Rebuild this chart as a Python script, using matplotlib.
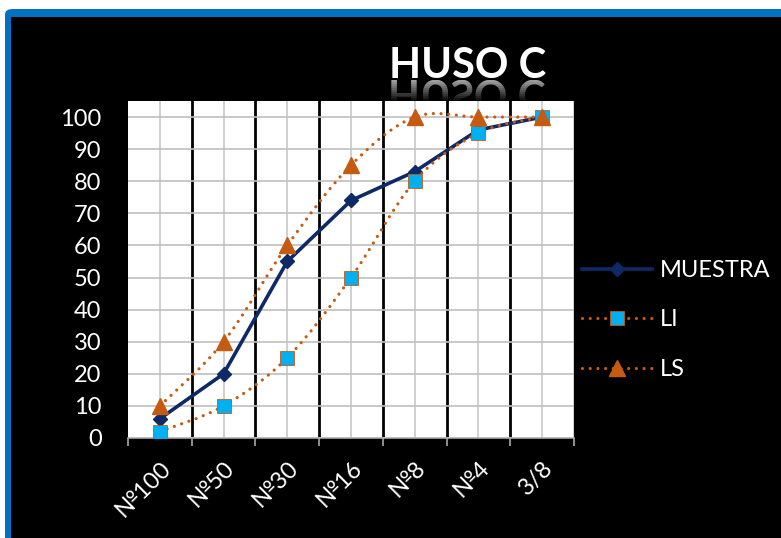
import numpy as np
import matplotlib
matplotlib.use("Agg")
import matplotlib.pyplot as plt
from matplotlib.path import Path
from matplotlib.patches import PathPatch, Rectangle, FancyBboxPatch
from matplotlib.textpath import TextPath
from matplotlib.font_manager import FontProperties
from matplotlib.lines import Line2D
from matplotlib.transforms import Affine2D, Bbox

plt.rcParams['font.family'] = ['Lato', 'DejaVu Sans']

tamices = ['№100', '№50', '№30', '№16', '№8', '№4', '3/8']
muestra = [6, 20, 55, 74, 83, 96, 100]
li = [2, 10, 25, 50, 80, 95, 100]
ls = [10, 30, 60, 85, 100, 100, 100]

NAVY = '#0E2A66'
ORANGE = '#C55A11'
CYAN = '#00B0F0'

W, H = 781, 538
fig = plt.figure(figsize=(W / 100, H / 100), dpi=100, facecolor='white')

# frame: blue border + black panel
fig.patches.append(FancyBboxPatch((5 / W, -0.05), 1.1, (H - 9) / H + 0.05,
                                  boxstyle='round,pad=0,rounding_size=0.01',
                                  transform=fig.transFigure, facecolor='#0070C0',
                                  edgecolor='none', zorder=0))
fig.patches.append(Rectangle((11 / W, 0), 1, (H - 17) / H, transform=fig.transFigure,
                             facecolor='black', edgecolor='none', zorder=0))

# title with a fading reflection
tx, ty = 468, H - 78
fig.text(tx / W, ty / H, 'HUSO C', color='white', fontsize=30, fontweight='bold',
         ha='center', va='baseline')
tp = TextPath((0, 0), 'HUSO C', size=30 * 100 / 72,
              prop=FontProperties(family=['Lato', 'DejaVu Sans'], weight='bold'))
ext = tp.get_extents()
flip = Affine2D().scale(1, -1).translate(tx - (ext.x0 + ext.x1) / 2, ty - 2)
rpath = flip.transform_path(tp)
nstrip = 12
for i in range(nstrip):
    y1 = ty - 2 - i * 2
    g = max(0.0, 0.62 - i * 0.06)
    p = PathPatch(rpath, transform=None, facecolor=(g, g, g), edgecolor='none', zorder=1)
    p.set_clip_box(Bbox([[0, y1 - 2], [W, y1]]))
    fig.patches.append(p)

ax = fig.add_axes([128 / W, 100 / H, 446 / W, 337 / H], zorder=2)
ax.set_facecolor('white')
x = np.arange(1, len(tamices) + 1)
ax.set_xlim(0.5, len(tamices) + 0.5)
ax.set_ylim(0, 105)


def smooth_path(xs, ys):
    pts = np.column_stack([xs, ys]).astype(float)
    ext_pts = np.vstack([pts[0], pts, pts[-1]])
    verts = [pts[0]]
    codes = [Path.MOVETO]
    for i in range(len(pts) - 1):
        p0, p1, p2, p3 = ext_pts[i], ext_pts[i + 1], ext_pts[i + 2], ext_pts[i + 3]
        verts += [p1 + (p2 - p0) / 6, p2 - (p3 - p1) / 6, p2]
        codes += [Path.CURVE4] * 3
    return Path(verts, codes)


dots = (0, (0.01, 2.4))

# grid
ax.set_yticks(np.arange(0, 101, 10))
ax.grid(axis='y', color='#BFBFBF', lw=1.2, zorder=0)
for xc in x:
    ax.axvline(xc, color='#C8C8C8', lw=1.2, zorder=0)
for xb in x[:-1] + 0.5:
    ax.axvline(xb, color='black', lw=2, zorder=1)
ax.axvline(len(tamices) + 0.5, color='#C8C8C8', lw=1.2, zorder=1)

# series
ax.plot(x, muestra, color=NAVY, lw=2.6, marker='D', ms=7, mfc=NAVY, mec=NAVY, zorder=3)
ax.add_patch(PathPatch(smooth_path(x, li), fill=False, edgecolor=ORANGE, lw=2.3,
                       linestyle=dots, capstyle='round', zorder=3))
ax.plot(x, li, ls='none', marker='s', ms=10, mfc=CYAN, mec=ORANGE, mew=0.6, zorder=4)
ax.add_patch(PathPatch(smooth_path(x, ls), fill=False, edgecolor=ORANGE, lw=2.3,
                       linestyle=dots, capstyle='round', zorder=4))
ax.plot(x, ls, ls='none', marker='^', ms=11, mfc=ORANGE, mec=ORANGE, zorder=5)

# axes styling
for s in ['top', 'right', 'left']:
    ax.spines[s].set_visible(False)
ax.spines['bottom'].set_color('#A6A6A6')
ax.spines['bottom'].set_linewidth(1.2)
ax.set_axisbelow(False)
ax.set_xticks(x)
ax.set_xticklabels(tamices)
ax.set_xticks(np.arange(0.5, len(tamices) + 1, 1), minor=True)
ax.tick_params(axis='x', which='major', length=0, pad=14, labelsize=17, colors='white')
ax.tick_params(axis='x', which='minor', length=6, width=1.2, color='#A6A6A6')
ax.tick_params(axis='y', length=0, pad=19, labelsize=17, colors='white')
for lab in ax.get_xticklabels():
    lab.set_rotation(45)
    lab.set_ha('right')
    lab.set_rotation_mode('anchor')

handles = [
    Line2D([], [], color=NAVY, lw=2.6, marker='D', ms=7),
    Line2D([], [], color=ORANGE, lw=2.3, ls=dots, dash_capstyle='round', marker='s', ms=10,
           mfc=CYAN, mec=ORANGE, mew=0.6),
    Line2D([], [], color=ORANGE, lw=2.3, ls=dots, dash_capstyle='round', marker='^', ms=11,
           mfc=ORANGE, mec=ORANGE),
]
leg = fig.legend(handles, ['MUESTRA', 'LI', 'LS'], loc='center left',
                 bbox_to_anchor=(561 / W, (H - 320) / H), frameon=False, fontsize=17,
                 labelcolor='white', handlelength=2.97, handletextpad=0.3, labelspacing=1.2)

fig.savefig('out.png', dpi=100, facecolor=fig.get_facecolor())
